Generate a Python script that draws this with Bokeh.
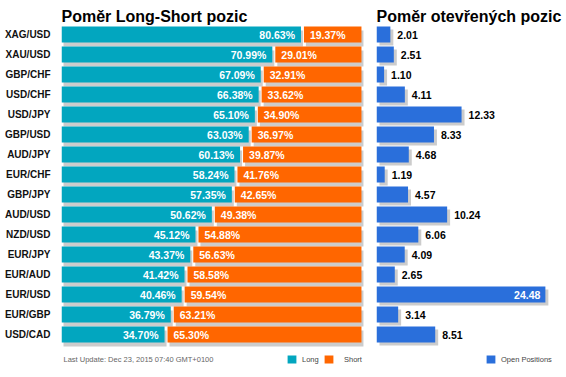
from bokeh.plotting import figure
from bokeh.models import (ColumnDataSource, Range1d, FixedTicker, Legend, LegendItem,
                          CDSView, BooleanFilter)
from bokeh.layouts import row
from bokeh.transform import dodge
from bokeh.core.properties import value
from bokeh.embed import file_html
from bokeh.resources import INLINE

# ---------------- data ----------------
pairs = ["XAG/USD", "XAU/USD", "GBP/CHF", "USD/CHF", "USD/JPY", "GBP/USD", "AUD/JPY", "EUR/CHF",
         "GBP/JPY", "AUD/USD", "NZD/USD", "EUR/JPY", "EUR/AUD", "EUR/USD", "EUR/GBP", "USD/CAD"]
long_pct = [80.63, 70.99, 67.09, 66.38, 65.10, 63.03, 60.13, 58.24,
            57.35, 50.62, 45.12, 43.37, 41.42, 40.46, 36.79, 34.70]
short_pct = [19.37, 29.01, 32.91, 33.62, 34.90, 36.97, 39.87, 41.76,
             42.65, 49.38, 54.88, 56.63, 58.58, 59.54, 63.21, 65.30]
open_pos = [2.01, 2.51, 1.10, 4.11, 12.33, 8.33, 4.68, 1.19,
            4.57, 10.24, 6.06, 4.09, 2.65, 24.48, 3.14, 8.51]

title_left = "Poměr Long-Short pozic"
title_right = "Poměr otevřených pozic"
footer = "Last Update: Dec 23, 2015 07:40 GMT+0100"

# ---------------- style ----------------
FONT = "Liberation Sans"
TEAL = "#02A6BF"
ORANGE = "#FF6600"
BLUE = "#2A6FDB"
SHADOW = "#CCCCCC"
BAR_H = 0.8
GAP = 1.0

n = len(pairs)
ys = list(range(n))

src = ColumnDataSource(dict(
    y=ys,
    zero=[0] * n,
    long=long_pct,
    short_left=[l + GAP for l in long_pct],
    short_right=[l + GAP + s for l, s in zip(long_pct, short_pct)],
    long_lbl=["%.2f%%" % v for v in long_pct],
    short_lbl=["%.2f%%" % v for v in short_pct],
))

y_range = Range1d(17.15, -0.5)

p1 = figure(width=368, height=377, x_range=Range1d(0, 103.37), y_range=y_range,
            output_backend="svg", toolbar_location=None, x_axis_location=None,
            y_axis_location="left", min_border_left=61, min_border_right=0,
            min_border_top=24, min_border_bottom=0, outline_line_color=None,
            title=title_left)
p1.grid.visible = False
p1.title.text_font = FONT
p1.title.text_font_size = "16px"
p1.title.text_font_style = "bold"
p1.title.text_color = "#000000"
p1.title.align = "left"
p1.title.offset = 0
p1.title.standoff = 0

ax = p1.yaxis[0]
ax.ticker = FixedTicker(ticks=ys)
ax.major_label_overrides = {i: p for i, p in enumerate(pairs)}
ax.axis_line_color = None
ax.major_tick_line_color = None
ax.minor_tick_line_color = None
ax.major_tick_out = 0
ax.major_label_standoff = 11
ax.major_label_text_font = FONT
ax.major_label_text_font_size = "10px"
ax.major_label_text_font_style = "bold"
ax.major_label_text_color = "#111111"

# shadows
p1.hbar(y=dodge("y", 0.2), left=dodge("zero", 0.67), right=dodge("long", 0.67), height=BAR_H,
        source=src, fill_color=SHADOW, line_color=None)
p1.hbar(y=dodge("y", 0.2), left=dodge("short_left", 0.67), right=dodge("short_right", 0.67),
        height=BAR_H, source=src, fill_color=SHADOW, line_color=None)
r_long = p1.hbar(y="y", left="zero", right="long", height=BAR_H, source=src,
                 fill_color=TEAL, line_color=None)
r_short = p1.hbar(y="y", left="short_left", right="short_right", height=BAR_H, source=src,
                  fill_color=ORANGE, line_color=None)

p1.text(x="long", y="y", text="long_lbl", source=src, x_offset=-6, text_align="right",
        text_baseline="middle", text_color="white", text_font=value(FONT),
        text_font_size="10.5px", text_font_style="bold")
p1.text(x="short_left", y="y", text="short_lbl", source=src, x_offset=6, text_align="left",
        text_baseline="middle", text_color="white", text_font=value(FONT),
        text_font_size="10.5px", text_font_style="bold")

p1.text(x=[0], y=[n + 0.25], text=[footer], x_offset=2, text_align="left",
        text_baseline="middle", text_color="#666666", text_font=value(FONT),
        text_font_size="7.5px")

def make_legend(label, rend, loc):
    lg = Legend(items=[LegendItem(label=label, renderers=[rend])], location=loc,
                orientation="horizontal", padding=0, margin=0, spacing=0,
                border_line_color=None, background_fill_alpha=0,
                glyph_width=11, glyph_height=10, label_height=10, label_width=10,
                label_standoff=5, label_text_font=FONT, label_text_font_size="7.5px",
                label_text_color="#444444")
    return lg

p1.add_layout(make_legend("Long", r_long, (225, 13)))
p1.add_layout(make_legend("Short", r_short, (262, 13)))
p1.legend[1].label_standoff = 10

# ---------------- right chart ----------------
inside = [v > 20 for v in open_pos]
src2 = ColumnDataSource(dict(
    y=ys,
    zero=[0] * n,
    val=open_pos,
    lbl=["%.2f" % v for v in open_pos],
))

p2 = figure(width=198, height=377, x_range=Range1d(0, 27.54), y_range=y_range,
            output_backend="svg", toolbar_location=None, x_axis_location=None,
            y_axis_location=None, min_border_left=8, min_border_right=0,
            min_border_top=24, min_border_bottom=0, outline_line_color=None,
            title=title_right)
p2.grid.visible = False
p2.title.text_font = FONT
p2.title.text_font_size = "16px"
p2.title.text_font_style = "bold"
p2.title.text_color = "#000000"
p2.title.align = "left"
p2.title.offset = 0
p2.title.standoff = 0

p2.hbar(y=dodge("y", 0.15), left=dodge("zero", 0.43), right=dodge("val", 0.43), height=BAR_H,
        source=src2, fill_color=SHADOW, line_color=None)
r_open = p2.hbar(y="y", left="zero", right="val", height=BAR_H, source=src2,
                 fill_color=BLUE, line_color=None)

p2.text(x="val", y="y", text="lbl", source=src2,
        view=CDSView(filter=BooleanFilter([not b for b in inside])),
        x_offset=7, text_align="left", text_baseline="middle", text_color="#000000",
        text_font=value(FONT), text_font_size="10.5px", text_font_style="bold")
p2.text(x="val", y="y", text="lbl", source=src2,
        view=CDSView(filter=BooleanFilter(inside)),
        x_offset=-5, text_align="right", text_baseline="middle", text_color="white",
        text_font=value(FONT), text_font_size="10.5px", text_font_style="bold")

p2.add_layout(make_legend("Open Positions", r_open, (109, 13)))

layout = row(p1, p2)
open("out.html", "w").write(file_html(layout, INLINE))
